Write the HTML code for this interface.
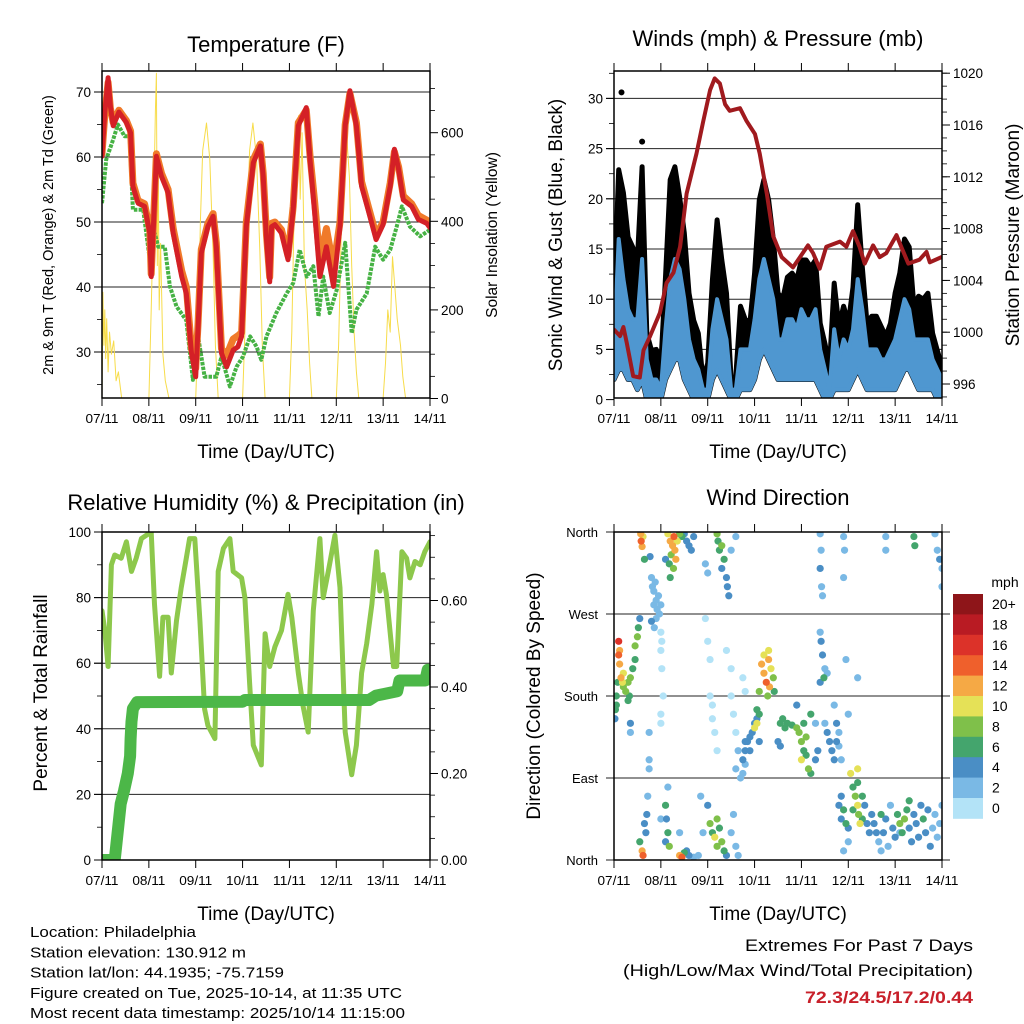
<!DOCTYPE html>
<html><head><meta charset="utf-8"><style>
html,body{margin:0;padding:0;background:#fff;}
svg{display:block;font-family:"Liberation Sans",Arial,sans-serif;}
</style></head><body>
<svg id="chart" width="1024" height="1024" viewBox="0 0 1024 1024" xmlns="http://www.w3.org/2000/svg">
<defs>
<clipPath id="c1"><rect x="102" y="71" width="328" height="327"/></clipPath>
<clipPath id="c2"><rect x="614" y="71" width="328" height="327"/></clipPath>
<clipPath id="c3"><rect x="102" y="532" width="328" height="328"/></clipPath>
<clipPath id="c4"><rect x="614" y="532" width="328" height="328"/></clipPath>
</defs>
</svg>
<script>
// ---------- DATA ----------
const dayLabels = ["07/11","08/11","09/11","10/11","11/11","12/11","13/11","14/11"];
const tempDay = [0,0.06,0.13,0.18,0.24,0.36,0.52,0.61,0.66,0.77,0.91,1.02,1.05,1.13,1.16,1.27,1.41,1.52,1.7,1.8,1.91,2.0,2.05,2.12,2.26,2.37,2.44,2.55,2.66,2.8,2.9,2.98,3.08,3.23,3.38,3.44,3.51,3.58,3.62,3.69,3.83,3.97,4.08,4.19,4.36,4.44,4.54,4.65,4.79,4.94,5.08,5.19,5.29,5.43,5.54,5.68,5.85,6.0,6.15,6.24,6.33,6.43,6.61,6.75,6.93,7];
const tempRed = [60.1,66.8,72.2,67.8,64.8,66.9,65.3,63.7,55.5,52.9,52.4,48.3,41.6,54.5,60.1,57,54.5,48.3,41.6,39,29.8,26.2,33.9,45.2,49.3,50.9,46.2,29.8,27.7,30.3,30.8,32.4,49.3,59.1,61.7,57,47.3,40.8,49.3,49.6,48.3,44.2,51.9,64.8,67.6,59.6,51.4,41.6,46.2,40.1,49.3,64.8,70.2,64.8,55.5,51.9,47.3,49.6,55.5,61.2,58.1,53.4,52.4,50.4,49.8,49.1];
const tempOrange = [60.5,66.5,71.5,67.5,65.3,67.2,65.6,64,56,53.3,52.8,48.7,42,55,60.5,57.5,55,49,42.5,40,30.5,27.5,34.5,45.8,49.8,51.3,46.8,30.5,29.5,32,32.5,33,50,59.6,62,57.5,48,41.5,49.8,50,48.8,44.8,52.4,65.3,67.2,60.2,53,44,49,43,50,65,69.8,65.3,56.2,52.5,48,50,56,60.8,58.5,54,52.8,51,50.3,49.5];
const dewDay = [0,0.09,0.24,0.34,0.48,0.59,0.66,0.88,1.02,1.05,1.09,1.2,1.34,1.45,1.59,1.8,1.94,2.05,2.19,2.44,2.55,2.73,2.87,3.01,3.16,3.3,3.4,3.51,3.72,3.94,4.08,4.22,4.37,4.51,4.62,4.72,4.86,5.01,5.19,5.33,5.43,5.65,5.83,6.0,6.15,6.29,6.4,6.57,6.79,7];
const dewVal = [52.9,59.6,62.7,65,63.2,63.2,51.9,51.9,44.2,41.6,49.3,46.2,46.2,40.1,37,34.9,25.7,32.4,26.2,26.2,29.3,24.7,27.7,29.3,32.4,30.8,28.8,32.4,36,39,40.6,45.7,41.6,43.2,35.5,41.6,36,39.6,46.8,32.9,36.5,39,46.2,44.2,45.7,49.3,52.4,49.3,47.8,48.8];
const solarTime = [0,0.02,0.04,0.06,0.08,0.1,0.13,0.16,0.2,0.25,0.3,0.35,0.42, 1.0,1.05,1.1,1.14,1.16,1.18,1.2,1.22,1.25,1.3,1.35,1.43, 2.0,2.05,2.1,2.15,2.23,2.3,2.37,2.42,2.48, 3.0,3.05,3.1,3.15,3.22,3.3,3.37,3.42,3.48, 4.0,4.05,4.1,4.15,4.2,4.23,4.27,4.32,4.38,4.43,4.48, 5.0,5.05,5.1,5.15,5.22,5.28,5.33,5.38,5.43,5.48, 6.0,6.05,6.1,6.15,6.2,6.25,6.3,6.37,6.42,6.48];
const solarValue = [0,240,120,200,90,180,60,150,100,130,40,60,0, 0,200,420,650,734,300,550,200,350,100,40,0, 0,150,400,560,622,540,330,120,0, 0,150,400,560,622,540,330,120,0, 0,150,420,580,639,450,600,300,200,80,0, 0,120,350,520,597,500,300,150,60,0, 0,80,200,150,320,250,180,120,50,0];

const windDay = [0,0.1,0.2,0.3,0.4,0.5,0.6,0.7,0.8,0.9,1,1.1,1.2,1.3,1.4,1.5,1.6,1.7,1.8,1.9,2,2.1,2.2,2.3,2.4,2.5,2.6,2.7,2.8,2.9,3,3.1,3.2,3.3,3.4,3.5,3.6,3.7,3.8,3.9,4,4.1,4.2,4.3,4.4,4.5,4.6,4.7,4.8,4.9,5,5.1,5.2,5.3,5.4,5.5,5.6,5.7,5.8,5.9,6,6.1,6.2,6.3,6.4,6.5,6.6,6.7,6.8,6.9,7];
const gustHigh = [9.9,22.9,20.6,16.2,15.2,13.9,23.2,6.6,4.9,5,3.6,12.2,21.9,23.2,20.2,16.6,10.6,7.9,6.6,2,3.6,11.9,17.9,13.9,10.6,2,2.3,9.3,8,7.6,12.6,19.9,21.9,19.9,16,10.6,10,12.2,12.6,11.9,13.9,13.9,13.2,13.9,7.6,5.6,3.3,11.6,7.3,9.3,7.6,11.2,19.4,13.2,7.6,8.3,8.3,7.3,6.3,7.6,10.6,12.6,16,15.2,9.3,10.3,10,10.6,6.6,4.9,3.3];
const windHigh = [5,16,12,9,8,8,14,4,2,2,1,7,12,14,13,10,6,4,3,1,1,7,10,8,6,1,1,5,5,5,8,12,14,12,10,6,6,8,8,7,9,8,8,9,5,3,1,7,4,6,5,7,12,9,5,5,5,4,4,5,6,8,10,9,6,6,6,6,4,3,2];
const windLow = [2,3,3,2,2,1,2,0,0,0,0,2,3,4,4,2,1,0,0,0,0,2,3,2,1,0,0,1,1,1,2,4,5,4,3,2,2,2,2,2,2,2,2,2,1,0,0,1,1,1,1,2,3,2,1,1,1,1,1,1,1,2,3,3,2,1,1,1,1,0,0];
const gustOutlierDay = [0.16,0.6];
const gustOutlierMph = [30.6,25.7];
const presDay = [0,0.13,0.2,0.27,0.41,0.55,0.63,0.77,0.98,1.12,1.27,1.41,1.55,1.76,1.9,2.05,2.15,2.26,2.37,2.47,2.69,2.83,3.01,3.11,3.26,3.4,3.58,3.82,3.97,4.14,4.25,4.39,4.53,4.82,4.96,5.1,5.24,5.35,5.53,5.67,5.81,6.03,6.13,6.28,6.52,6.67,6.74,6.99];
const presVal = [1000.2,999.7,1000.4,999.2,996.6,996.5,998.6,999.7,1001.5,1003.8,1004.6,1006.6,1010.7,1013.8,1016.2,1018.7,1019.6,1019.2,1017.6,1017.1,1017.3,1016.3,1015.3,1013.8,1010.7,1007.4,1005.8,1005,1005.8,1006.7,1006.1,1004.9,1006.6,1007,1006.6,1007.8,1006.6,1005.3,1006.7,1005.8,1006.1,1007.5,1006.6,1005.3,1005.6,1006.2,1005.4,1005.8];

const rhDay = [0,0.06,0.13,0.2,0.27,0.41,0.52,0.63,0.73,0.84,1.05,1.12,1.23,1.3,1.41,1.48,1.59,1.69,1.8,1.87,1.98,2.09,2.19,2.26,2.41,2.48,2.59,2.73,2.8,2.98,3.05,3.15,3.23,3.4,3.48,3.58,3.69,3.83,3.97,4.05,4.19,4.29,4.4,4.51,4.65,4.72,4.83,4.97,5.08,5.19,5.33,5.43,5.54,5.65,5.76,5.86,5.93,6.0,6.07,6.22,6.29,6.4,6.5,6.57,6.68,6.79,6.89,7];
const rhVal = [76,70,59,90,93,92,97,88,92,98,100,78,56,74,74,57,73,83,92,98,98,73,46,41,37,88,95,98,88,86,80,54,35,29,69,59,65,70,81,74,57,47,39,76,98,80,88,99,83,39,26,35,57,66,78,94,82,87,81,59,59,94,92,86,91,90,94,97];
const precipDay = [0,0.27,0.3,0.35,0.4,0.47,0.55,0.6,0.61,0.63,0.66,0.75,3.0,3.05,5.7,5.85,6.3,6.35,6.9,6.95,7];
const precipVal = [0,0,0.03,0.08,0.13,0.16,0.2,0.24,0.28,0.32,0.35,0.365,0.366,0.37,0.37,0.38,0.39,0.415,0.415,0.44,0.44];

// wind direction observations: [day, direction deg, speed mph]
const dirObs = [
[0.57,358,12],[0.58,350,14],[0.6,344,12],[0.62,355,10],[0.65,330,7],[0.77,333,4],
[0.8,310,2],[0.82,300,2],[0.85,295,3],[0.88,305,2],[0.9,285,2],[0.92,275,2],[0.95,290,3],[0.97,270,2],[0.85,280,2],[0.9,265,2],[1.0,280,2],[0.86,255,2],[0.8,262,4],[1.0,250,1],[1.0,230,1],[1.02,210,1],[1.05,180,1],[1.02,240,1],
[1.15,358,10],[1.2,350,12],[1.25,345,12],[1.28,355,14],[1.3,340,12],[1.32,330,12],[1.35,350,10],[1.22,335,8],[1.18,325,6],[1.27,320,8],[1.4,358,8],[1.45,355,6],[1.5,358,4],[1.55,350,4],[1.6,345,4],[1.65,340,4],[1.7,355,4],[1.1,330,4],[1.2,310,6],
[2.2,358,8],[2.22,350,6],[2.25,340,6],[2.3,345,8],[2.35,330,6],[2.3,320,4],[2.4,310,4],[2.42,300,4],[2.45,290,4],[2.5,340,2],[2.6,355,2],[2.0,315,2],[1.95,325,2],
[4.4,358,2],[4.42,340,2],[4.4,320,4],[4.43,300,2],[4.45,290,2],[4.4,250,2],[4.42,240,4],[4.45,225,4],[4.5,210,2],[4.48,200,6],[4.4,195,4],[4.55,205,2],[4.9,355,2],[4.92,340,2],[4.9,310,2],[4.95,220,2],[5.2,200,2],[5.8,355,2],[5.8,340,2],[6.4,355,6],[6.42,345,6],[6.85,358,2],[6.9,340,2],[6.95,330,4],[7.0,320,2],[7.0,300,2],
[1.95,265,0],[2.0,240,0],[2.05,220,0],[2.05,180,0],[2.1,170,0],[2.1,155,0],[2.15,140,0],[2.2,120,0],[2.4,230,0],[2.5,210,0],[2.5,180,0],[2.55,160,0],[2.6,140,0],[2.65,120,2],[2.6,100,2],[2.75,200,0],[2.8,185,0],[1.0,160,0],[1.0,150,0],[0.75,110,2],[0.75,100,2],[0.35,150,4],[0.35,140,2],[0.75,140,2],
[0.1,240,16],[0.12,230,12],[0.1,225,14],[0.12,215,12],[0.15,200,12],[0.18,195,10],[0.2,190,8],[0.25,185,8],[0.3,175,6],[0.3,195,8],[0.35,200,8],[0.4,210,6],[0.45,220,6],[0.45,235,8],[0.5,245,8],[0.52,255,6],[0.55,265,4],[0.05,180,6],[0.03,165,6],[0.02,155,4],[0.05,170,6],[0.2,205,10],[0.08,195,6],[0.33,180,6],
[3.15,215,12],[3.2,205,12],[3.2,225,10],[3.25,195,14],[3.3,220,12],[3.32,190,12],[3.35,210,10],[3.4,200,8],[3.42,185,6],[3.1,185,8],[3.05,165,6],[3.3,230,10],[3.28,180,8],
[2.75,110,4],[2.8,120,4],[2.85,130,4],[2.9,135,4],[2.95,140,4],[3.0,150,4],[3.05,155,4],[3.1,160,6],[3.0,145,10],[3.05,150,10],[3.1,130,4],[2.8,105,2],[2.75,95,2],[2.7,90,2],[2.8,130,4],[2.9,120,4],
[3.55,150,6],[3.6,155,6],[3.65,145,6],[3.7,150,6],[3.8,148,6],[3.9,145,8],[3.95,140,8],[4.0,130,8],[4.05,150,6],[4.1,135,8],[4.05,120,6],[4.1,115,6],[4.15,100,8],[4.2,95,6],[4.2,160,6],[3.5,130,4],[3.55,125,4],[3.9,170,4],[4.3,150,2],[4.35,120,4],[4.3,110,4],[4.0,110,10],
[4.5,150,2],[4.55,140,4],[4.6,130,4],[4.65,120,4],[4.7,110,4],[4.75,150,4],[4.75,130,4],[4.8,140,2],[4.7,170,2],[4.8,125,2],[4.85,110,2],[5.0,160,2],
[4.8,60,4],[4.85,45,4],[4.9,55,6],[4.95,40,6],[5.0,35,4],[5.1,80,6],[5.15,70,8],[5.2,60,10],[5.22,50,8],[5.25,40,10],[5.3,70,6],[5.3,45,6],[5.35,60,4],[5.4,40,4],[5.45,30,4],[5.5,50,4],[5.1,55,6],[5.05,95,10],[5.2,85,6],[4.85,70,4],[5.0,20,2],[4.9,10,2],[5.2,100,10],
[5.55,40,4],[5.6,30,4],[5.65,20,2],[5.7,50,6],[5.75,30,4],[5.8,45,4],[5.85,15,2],[5.9,60,2],[5.95,35,4],[6.0,25,4],[6.05,50,6],[6.1,40,8],[6.15,30,6],[6.2,45,8],[6.25,55,6],[6.3,35,4],[6.35,20,4],[6.4,50,4],[6.45,40,4],[6.5,25,4],[6.55,60,4],[6.6,45,6],[6.65,30,4],[6.7,55,4],[6.75,15,4],[6.8,35,2],[6.85,50,2],[6.9,25,2],[6.95,40,2],[7.0,60,2],[6.3,65,6],[6.1,30,2],[5.7,10,2],
[0.6,10,12],[0.62,5,14],[0.55,20,6],[0.65,40,4],[0.68,30,4],[0.7,50,4],[0.72,70,2],[1.1,60,6],[1.12,45,4],[1.15,30,6],[1.18,15,8],[1.1,20,4],[1.15,80,2],[1.4,5,12],[1.45,3,14],[1.5,8,6],[1.55,10,4],[1.6,5,4],[1.7,3,2],[2.05,40,8],[2.1,30,6],[2.15,25,10],[2.2,15,8],[2.25,35,6],[2.3,20,8],[2.35,10,6],[2.2,45,8],[2.4,5,4],[2.0,60,4],[2.5,30,2],[2.55,50,2],[2.6,15,2],[2.65,5,2],[1.8,5,2],[1.9,30,2],[1.85,70,2],[1.4,30,2],[1.0,45,2]
];
const dirDay = dirObs.map(o=>o[0]);
const dirDeg = dirObs.map(o=>o[1]);
const dirSpd = dirObs.map(o=>o[2]);
const speedLabels = ["20+","18","16","14","12","10","8","6","4","2","0"];
const speedColors = ["#b3e3f7","#7ab9e5","#4a8ec5","#44a56d","#7fc04a","#e5e157","#f5a945","#ef602c","#dc3229","#b91b23","#8e1519"];

// ---------- HELPERS ----------
const NS = 'http://www.w3.org/2000/svg';
const svg = document.getElementById('chart');
function mk(tag, attrs, parent){ const e=document.createElementNS(NS,tag); for(const k in attrs) e.setAttribute(k,attrs[k]); (parent||svg).appendChild(e); return e; }
function group(name, clip){ const g=mk('g', clip?{'clip-path':'url(#'+clip+')'}:{}); 
 
 return g; }

const P1={x0:102,x1:430,y0:71,y1:398}, P2={x0:614,x1:942,y0:71,y1:398}, P3={x0:102,x1:430,y0:532,y1:860}, P4={x0:614,x1:942,y0:532,y1:860};
function xs(p,d){ return p.x0 + d*(p.x1-p.x0)/7; }
const yTemp = t => 352 - (t-30)*6.5;
const ySolar = v => 398.5 - v*0.443;
const yWind = m => 399.6 - m*10.04;
const yPres = pr => 384 - (pr-996)*12.95;
const yRH = r => 860 - r*3.28;
const yPrecip = v => 860 - v*432.5;
const yDir = d => 860 - d*328/360;

function pathFrom(p, days, vals, yf){ let s=''; for(let i=0;i<days.length;i++){ s+=(i?'L':'M')+xs(p,days[i]).toFixed(1)+' '+yf(vals[i]).toFixed(1);} return s; }
function areaFrom(p, days, hi, lo, yf){
 let s='';
 for(let i=0;i<days.length;i++) s+=(i?'L':'M')+xs(p,days[i]).toFixed(1)+' '+yf(hi[i]).toFixed(1);
 for(let i=days.length-1;i>=0;i--) s+='L'+xs(p,days[i]).toFixed(1)+' '+yf(lo[i]).toFixed(1);
 return s+'Z';
}

function label(x,y,s,size,anchor,parent,name,extra){
 const t=mk('text',Object.assign({x:x,y:y,'font-size':size,'text-anchor':anchor||'start',fill:'#000'},extra||{}),parent);
 t.textContent=s;
 
 
 return t;
}

function frame(p, prefix){
 const g=group(prefix+'-frame');
 for(let d=0; d<=7; d++){
  const x=xs(p,d);
  const t1=mk('line',{x1:x,y1:p.y0-8,x2:x,y2:p.y0,stroke:'#000','stroke-width':1},g);
  
  
  const t2=mk('line',{x1:x,y1:p.y1,x2:x,y2:p.y1+8,stroke:'#000','stroke-width':1},g);
  
  
  label(x,p.y1+25,dayLabels[d],13,'middle',g,prefix+'-x-tick-label',{textLength:33,lengthAdjust:'spacingAndGlyphs'});
 }
 const r=mk('rect',{x:p.x0,y:p.y0,width:p.x1-p.x0,height:p.y1-p.y0,fill:'none',stroke:'#000','stroke-width':1.5},g);
 
 
 label((p.x0+p.x1)/2,p.y1+60,'Time (Day/UTC)',19,'middle',g,prefix+'-x-axis-title');
}
function yAxis(p, prefix, side, yf, majors, minors, labels, fmtSize){
 const g=group(prefix+'-'+side+'-axis');
 const sgn = side==='left'?-1:1, xb = side==='left'?p.x0:p.x1;
 majors.forEach((v,i)=>{
  const y=yf(v);
  const t=mk('line',{x1:xb,y1:y,x2:xb+sgn*8,y2:y,stroke:'#000','stroke-width':1},g);
  
  
  label(xb+sgn*11,y+5,labels[i],fmtSize||13.5,side==='left'?'end':'start',g,prefix+'-'+side+'-tick-label');
 });
 minors.forEach(v=>{
  const y=yf(v);
  const t=mk('line',{x1:xb,y1:y,x2:xb+sgn*5,y2:y,stroke:'#000','stroke-width':0.8},g);
  
  
 });
}
function grid(p, prefix, yf, vals, ext){
 const g=group(prefix+'-gridlines');
 vals.forEach(v=>{
  const y=yf(v);
  const l=mk('line',{x1:p.x0-8,y1:y,x2:p.x1+(ext||0),y2:y,stroke:'#222','stroke-width':1},g);
  
  
 });
}
function rot(x,y,s,size,name,extra){
 return label(x,y,s,size,'middle',svg,name,Object.assign({transform:'rotate(-90 '+x+' '+y+')'},extra||{}));
}
function rng(a,b,st){ const r=[]; for(let v=a; v<=b+1e-9; v+=st) r.push(+v.toFixed(3)); return r; }

// ---------- PANEL 1: TEMPERATURE ----------
label(266,52,'Temperature (F)',22,'middle',svg,'temperature-title');
grid(P1,'temperature',yTemp,[30,40,50,60,70]);
(function(){
 const g=group('temperature-series','c1');
 let s='';
 for(let i=0;i<solarTime.length;i++){
  s+=((i===0||solarTime[i]-solarTime[i-1]>0.3)?'M':'L')+xs(P1,solarTime[i]).toFixed(1)+' '+ySolar(solarValue[i]).toFixed(1);
 }
 const sol=mk('path',{d:s,fill:'none',stroke:'#f7dc4a','stroke-width':1,'stroke-linejoin':'round'},g);
 
 
 const dw=mk('path',{d:pathFrom(P1,dewDay,dewVal,yTemp),fill:'none',stroke:'#46b244','stroke-width':4,'stroke-dasharray':'3.5 1.2','stroke-linejoin':'round'},g);
 
 
 const or=mk('path',{d:pathFrom(P1,tempDay,tempOrange,yTemp),fill:'none',stroke:'#f07a2a','stroke-width':7,'stroke-linejoin':'round','stroke-linecap':'round'},g);
 
 
 const rd=mk('path',{d:pathFrom(P1,tempDay,tempRed,yTemp),fill:'none',stroke:'#d42026','stroke-width':5,'stroke-linejoin':'round','stroke-linecap':'round'},g);
 
 
})();
frame(P1,'temperature');
yAxis(P1,'temperature','left',yTemp,[30,40,50,60,70],[25,35,45,55,65],['30','40','50','60','70']);
yAxis(P1,'temperature','right',ySolar,[0,200,400,600],[50,100,150,250,300,350,450,500,550,650,700],['0','200','400','600']);
rot(53,235,'2m & 9m T (Red, Orange) & 2m Td (Green)',14.5,'temperature-left-axis-title');
rot(497,235,'Solar Insolation (Yellow)',15.5,'solar-right-axis-title');

// ---------- PANEL 2: WINDS ----------
label(778,46,'Winds (mph) & Pressure (mb)',22,'middle',svg,'winds-title');
grid(P2,'winds',yWind,[5,10,15,20,25,30]);
(function(){
 const g=group('winds-series','c2');
 const ga=mk('path',{d:areaFrom(P2,windDay,gustHigh,windLow,yWind),fill:'#000',stroke:'#000','stroke-width':5,'stroke-linejoin':'round'},g);
 
 
 for(let i=0;i<gustOutlierDay.length;i++){
  const c=mk('circle',{cx:xs(P2,gustOutlierDay[i]),cy:yWind(gustOutlierMph[i]),r:3,fill:'#000'},g);
  
  
 }
 const wa=mk('path',{d:areaFrom(P2,windDay,windHigh,windLow,yWind),fill:'#4f97d0',stroke:'#4f97d0','stroke-width':4,'stroke-linejoin':'round'},g);
 
 
 const pr=mk('path',{d:pathFrom(P2,presDay,presVal,yPres),fill:'none',stroke:'#a01a1e','stroke-width':4,'stroke-linejoin':'round','stroke-linecap':'round'},g);
 
 
})();
frame(P2,'winds');
yAxis(P2,'winds','left',yWind,[0,5,10,15,20,25,30],[2.5,7.5,12.5,17.5,22.5,27.5,32.5],['0','5','10','15','20','25','30']);
yAxis(P2,'winds','right',yPres,[996,1000,1004,1008,1012,1016,1020],rng(995,1020,1),['996','1000','1004','1008','1012','1016','1020']);
rot(562,235,'Sonic Wind & Gust (Blue, Black)',19,'winds-left-axis-title');
rot(1019,235,'Station Pressure (Maroon)',19,'pressure-right-axis-title');

// ---------- PANEL 3: RH & PRECIP ----------
label(266,510,'Relative Humidity (%) & Precipitation (in)',22,'middle',svg,'humidity-title');
grid(P3,'humidity',yRH,[20,40,60,80,100]);
(function(){
 const g=group('humidity-series','c3');
 const rh=mk('path',{d:pathFrom(P3,rhDay,rhVal,yRH),fill:'none',stroke:'#8dc84c','stroke-width':5,'stroke-linejoin':'round','stroke-linecap':'round'},g);
 
 
 const pc=mk('path',{d:pathFrom(P3,precipDay,precipVal,yPrecip),fill:'none',stroke:'#4cb748','stroke-width':12,'stroke-linejoin':'round','stroke-linecap':'round'},g);
 
 
})();
frame(P3,'humidity');
yAxis(P3,'humidity','left',yRH,[0,20,40,60,80,100],[10,30,50,70,90],['0','20','40','60','80','100']);
yAxis(P3,'humidity','right',yPrecip,[0,0.2,0.4,0.6],[0.05,0.1,0.15,0.25,0.3,0.35,0.45,0.5,0.55,0.65,0.7,0.75],['0.00','0.20','0.40','0.60']);
rot(47,693,'Percent & Total Rainfall',19,'humidity-left-axis-title');

// ---------- PANEL 4: WIND DIRECTION ----------
label(778,505,'Wind Direction',22,'middle',svg,'wind-direction-title');
grid(P4,'wind-direction',yDir,[90,180,270,360,0],8);
(function(){
 const g=group('wind-direction-points','c4');
 const order=dirSpd.map((s,i)=>i).sort((a,b)=>dirSpd[a]-dirSpd[b]);
 order.forEach(i=>{
  const bin=Math.min(10,Math.floor(dirSpd[i]/2));
  const c=mk('circle',{cx:xs(P4,dirDay[i]),cy:yDir(dirDeg[i]),r:3.6,fill:speedColors[bin]},g);
  
  
 });
})();
frame(P4,'wind-direction');
(function(){
 const names=['North','East','South','West','North'];
 [0,90,180,270,360].forEach((v,i)=>{
  label(P4.x0-16,yDir(v)+5,names[i],13,'end',svg,'wind-direction-tick-label');
 });
})();
rot(540,696,'Direction (Colored By Speed)',19,'wind-direction-left-axis-title');

// colorbar
(function(){
 const g=group('speed-colorbar');
 label(1005,587,'mph',14,'middle',g,'colorbar-title');
 for(let i=0;i<11;i++){
  const y=594+i*20.4;
  const r=mk('rect',{x:953,y:y,width:30,height:20.8,fill:speedColors[10-i]},g);
  
  
  label(992,y+15,speedLabels[i],14,'start',g,'colorbar-label');
 }
})();

// ---------- FOOTER ----------
(function(){
 const g=group('station-info');
 const lines=['Location: Philadelphia','Station elevation: 130.912 m','Station lat/lon: 44.1935; -75.7159','Figure created on Tue, 2025-10-14, at 11:35 UTC','Most recent data timestamp: 2025/10/14 11:15:00'];
 const widths=[166,216,254,372,375];
 lines.forEach((s,i)=>{ label(30,937+i*20.3,s,15,'start',g,'station-info-line',{textLength:widths[i],lengthAdjust:'spacingAndGlyphs'}); });
 label(973,951,'Extremes For Past 7 Days',17,'end',svg,'extremes-heading',{textLength:228,lengthAdjust:'spacingAndGlyphs'});
 label(973,976,'(High/Low/Max Wind/Total Precipitation)',17,'end',svg,'extremes-subheading',{textLength:350,lengthAdjust:'spacingAndGlyphs'});
 label(973,1003,'72.3/24.5/17.2/0.44',17,'end',svg,'extremes-values',{fill:'#c8202a','font-weight':'bold',textLength:168,lengthAdjust:'spacingAndGlyphs'});
})();
</script>
</body></html>
